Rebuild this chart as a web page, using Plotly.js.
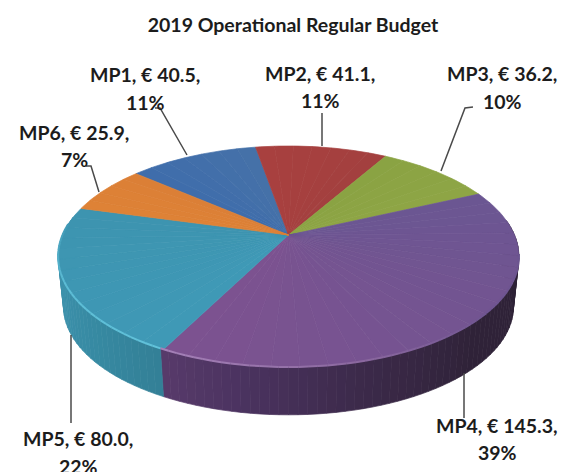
<!DOCTYPE html>
<html>
<head>
<meta charset="utf-8">
<script src="https://cdn.plot.ly/plotly-3.0.1.min.js"></script>
<style>html,body{margin:0;padding:0;background:#fff}#chart{width:565px;height:472px}</style>
</head>
<body>
<div id="chart"></div>
<script>
// Budget figures, million euro
const categories = ['MP1', 'MP2', 'MP3', 'MP4', 'MP5', 'MP6'];
const budget = [40.5, 41.1, 36.2, 145.3, 80.0, 25.9];

// Top face colours, first and last edge of each slice (clockwise)
const topFrom = ['#3f6dab', '#a8403f', '#8aa343', '#6b5692', '#3f99b6', '#de8236'];
const topTo   = ['#4571a8', '#a3403f', '#8ea545', '#7c5290', '#3d94b0', '#db7f36'];

// Disc drawing parameters (pixel space)
const firstAngle = 310.5, cx = 288.5, apexY = 235;
const radiusX = 226, radiusY = 106.3, tilt = 0.1946;
const wallDrop = 51, wallScale = 0.976;

const hexToRgb = h => [1, 3, 5].map(i => parseInt(h.substr(i, 2), 16));
function mix(a, b, t) {
  const A = hexToRgb(a), B = hexToRgb(b);
  return 'rgb(' + A.map((c, i) => Math.round(c + (B[i] - c) * t)).join(',') + ')';
}
function ramp(stops, a) {
  if (a <= stops[0][0]) return stops[0][1];
  for (let i = 1; i < stops.length; i++) {
    if (a <= stops[i][0]) {
      const t = (a - stops[i - 1][0]) / (stops[i][0] - stops[i - 1][0]);
      return mix(stops[i - 1][1], stops[i][1], t);
    }
  }
  return stops[stops.length - 1][1];
}

// Perspective projection of a point on the disc rim, angle clockwise from the back
function rim(deg, lower) {
  const a = deg * Math.PI / 180, u = Math.sin(a), v = Math.cos(a), w = 1 + tilt * v;
  const px = radiusX * u / w, py = -radiusY * v / w;
  return lower ? [cx + wallScale * px, apexY + wallDrop + wallScale * py] : [cx + px, apexY + py];
}

function poly(pts, color) {
  return {
    type: 'scatter', mode: 'lines', fill: 'toself', fillcolor: color,
    x: pts.map(p => p[0]), y: pts.map(p => p[1]),
    line: {color: color, width: 0.7}, hoverinfo: 'skip', showlegend: false
  };
}

const total = budget.reduce((a, b) => a + b, 0);
const edges = [firstAngle];
budget.forEach((v, i) => edges.push(edges[i] + v / total * 360));
const norm = d => ((d % 360) + 360) % 360;

// Shading of the outer wall by rim angle
const wallStops = [
  [95, '#2e2237'], [135, '#2f2238'], [165, '#3c2a4a'], [190, '#4b3360'], [207.1, '#573a6a'],
  [207.2, '#337f96'], [230, '#378aa3'], [250, '#3c90aa'], [275, '#3f94ae']
];
// Light bevel along the front of the top face
const bevelStops = [
  [100, '#6c5590'], [130, '#6f5591'], [165, '#8b689f'], [207.1, '#a581b8'],
  [207.2, '#62c2da'], [245, '#5cbcd5'], [268, '#48a3be'], [276, '#3f99b6']
];

const traces = [];

// Outer wall strips, covered afterwards by the top face where hidden
for (let a = 82; a < 280; a += 2) {
  const pts = [];
  for (let k = 0; k <= 2; k++) pts.push(rim(a + k, false));
  for (let k = 2; k >= 0; k--) pts.push(rim(a + k, true));
  pts.push(pts[0]);
  traces.push(poly(pts, ramp(wallStops, a + 1)));
}

// Top face, each slice built from narrow wedges
budget.forEach((v, i) => {
  const sweep = edges[i + 1] - edges[i];
  const n = Math.ceil(sweep / 6);
  for (let s = 0; s < n; s++) {
    const a0 = edges[i] + sweep * s / n, a1 = edges[i] + sweep * (s + 1) / n;
    const pts = [[cx, apexY]];
    for (let k = 0; k <= 4; k++) pts.push(rim(a0 + (a1 - a0) * k / 4, false));
    pts.push([cx, apexY]);
    traces.push(poly(pts, mix(topFrom[i], topTo[i], n > 1 ? s / (n - 1) : 0)));
  }
});

// Bevel line
for (let a = 100; a < 276; a += 2) {
  const pts = [rim(a, false), rim(a + 1, false), rim(a + 2, false)];
  traces.push({
    type: 'scatter', mode: 'lines', x: pts.map(p => p[0]), y: pts.map(p => p[1]),
    line: {color: ramp(bevelStops, a + 1), width: 2}, hoverinfo: 'skip', showlegend: false
  });
}

// Data label placement, two lines per label
const labelX  = [145, 320, 502, 497, 78, 74];
const labelY1 = [74, 73, 73, 425, 438, 132];
const labelY2 = [102, 100, 101, 452, 466, 159];
const labelFont = {family: 'Lato, Carlito, sans-serif', size: 19.5, color: '#1c1c1c'};

const annotations = [];
categories.forEach((name, i) => {
  const line1 = name + ', € ' + budget[i].toFixed(1) + ',';
  const line2 = Math.round(budget[i] / total * 100) + '%';
  [[line1, labelY1[i]], [line2, labelY2[i]]].forEach(([text, y]) => {
    annotations.push({
      x: labelX[i], y: y, xref: 'x', yref: 'y', text: '<b>' + text + '</b>',
      showarrow: false, xanchor: 'center', yanchor: 'middle', font: labelFont
    });
  });
});

// Leader lines from labels to the disc
const leaderPaths = [
  'M155,108 L160,108 L187,155',
  'M322,113 L322,146',
  'M473,107 L465,108 L441,171',
  'M464,373 L464,418',
  'M71,335 L71,423',
  'M86,166 L91,166 L99,192'
];
const shapes = leaderPaths.map(p => ({
  type: 'path', path: p, xref: 'x', yref: 'y', layer: 'above',
  line: {color: '#4a4a4a', width: 1.5}
}));

const layout = {
  width: 565, height: 472,
  margin: {l: 0, r: 0, t: 0, b: 0},
  paper_bgcolor: '#ffffff', plot_bgcolor: '#ffffff',
  showlegend: false, hovermode: false,
  title: {
    text: '<b>2019 Operational Regular Budget</b>',
    font: {family: 'Lato, Carlito, sans-serif', size: 19.5, color: '#1c1c1c'},
    x: 293 / 565, xanchor: 'center', y: 1 - 25 / 472, yanchor: 'middle'
  },
  xaxis: {range: [0, 565], visible: false, fixedrange: true},
  yaxis: {range: [472, 0], visible: false, fixedrange: true},
  annotations: annotations,
  shapes: shapes
};

Plotly.newPlot('chart', traces, layout, {displayModeBar: false, responsive: false});
</script>
</body>
</html>
